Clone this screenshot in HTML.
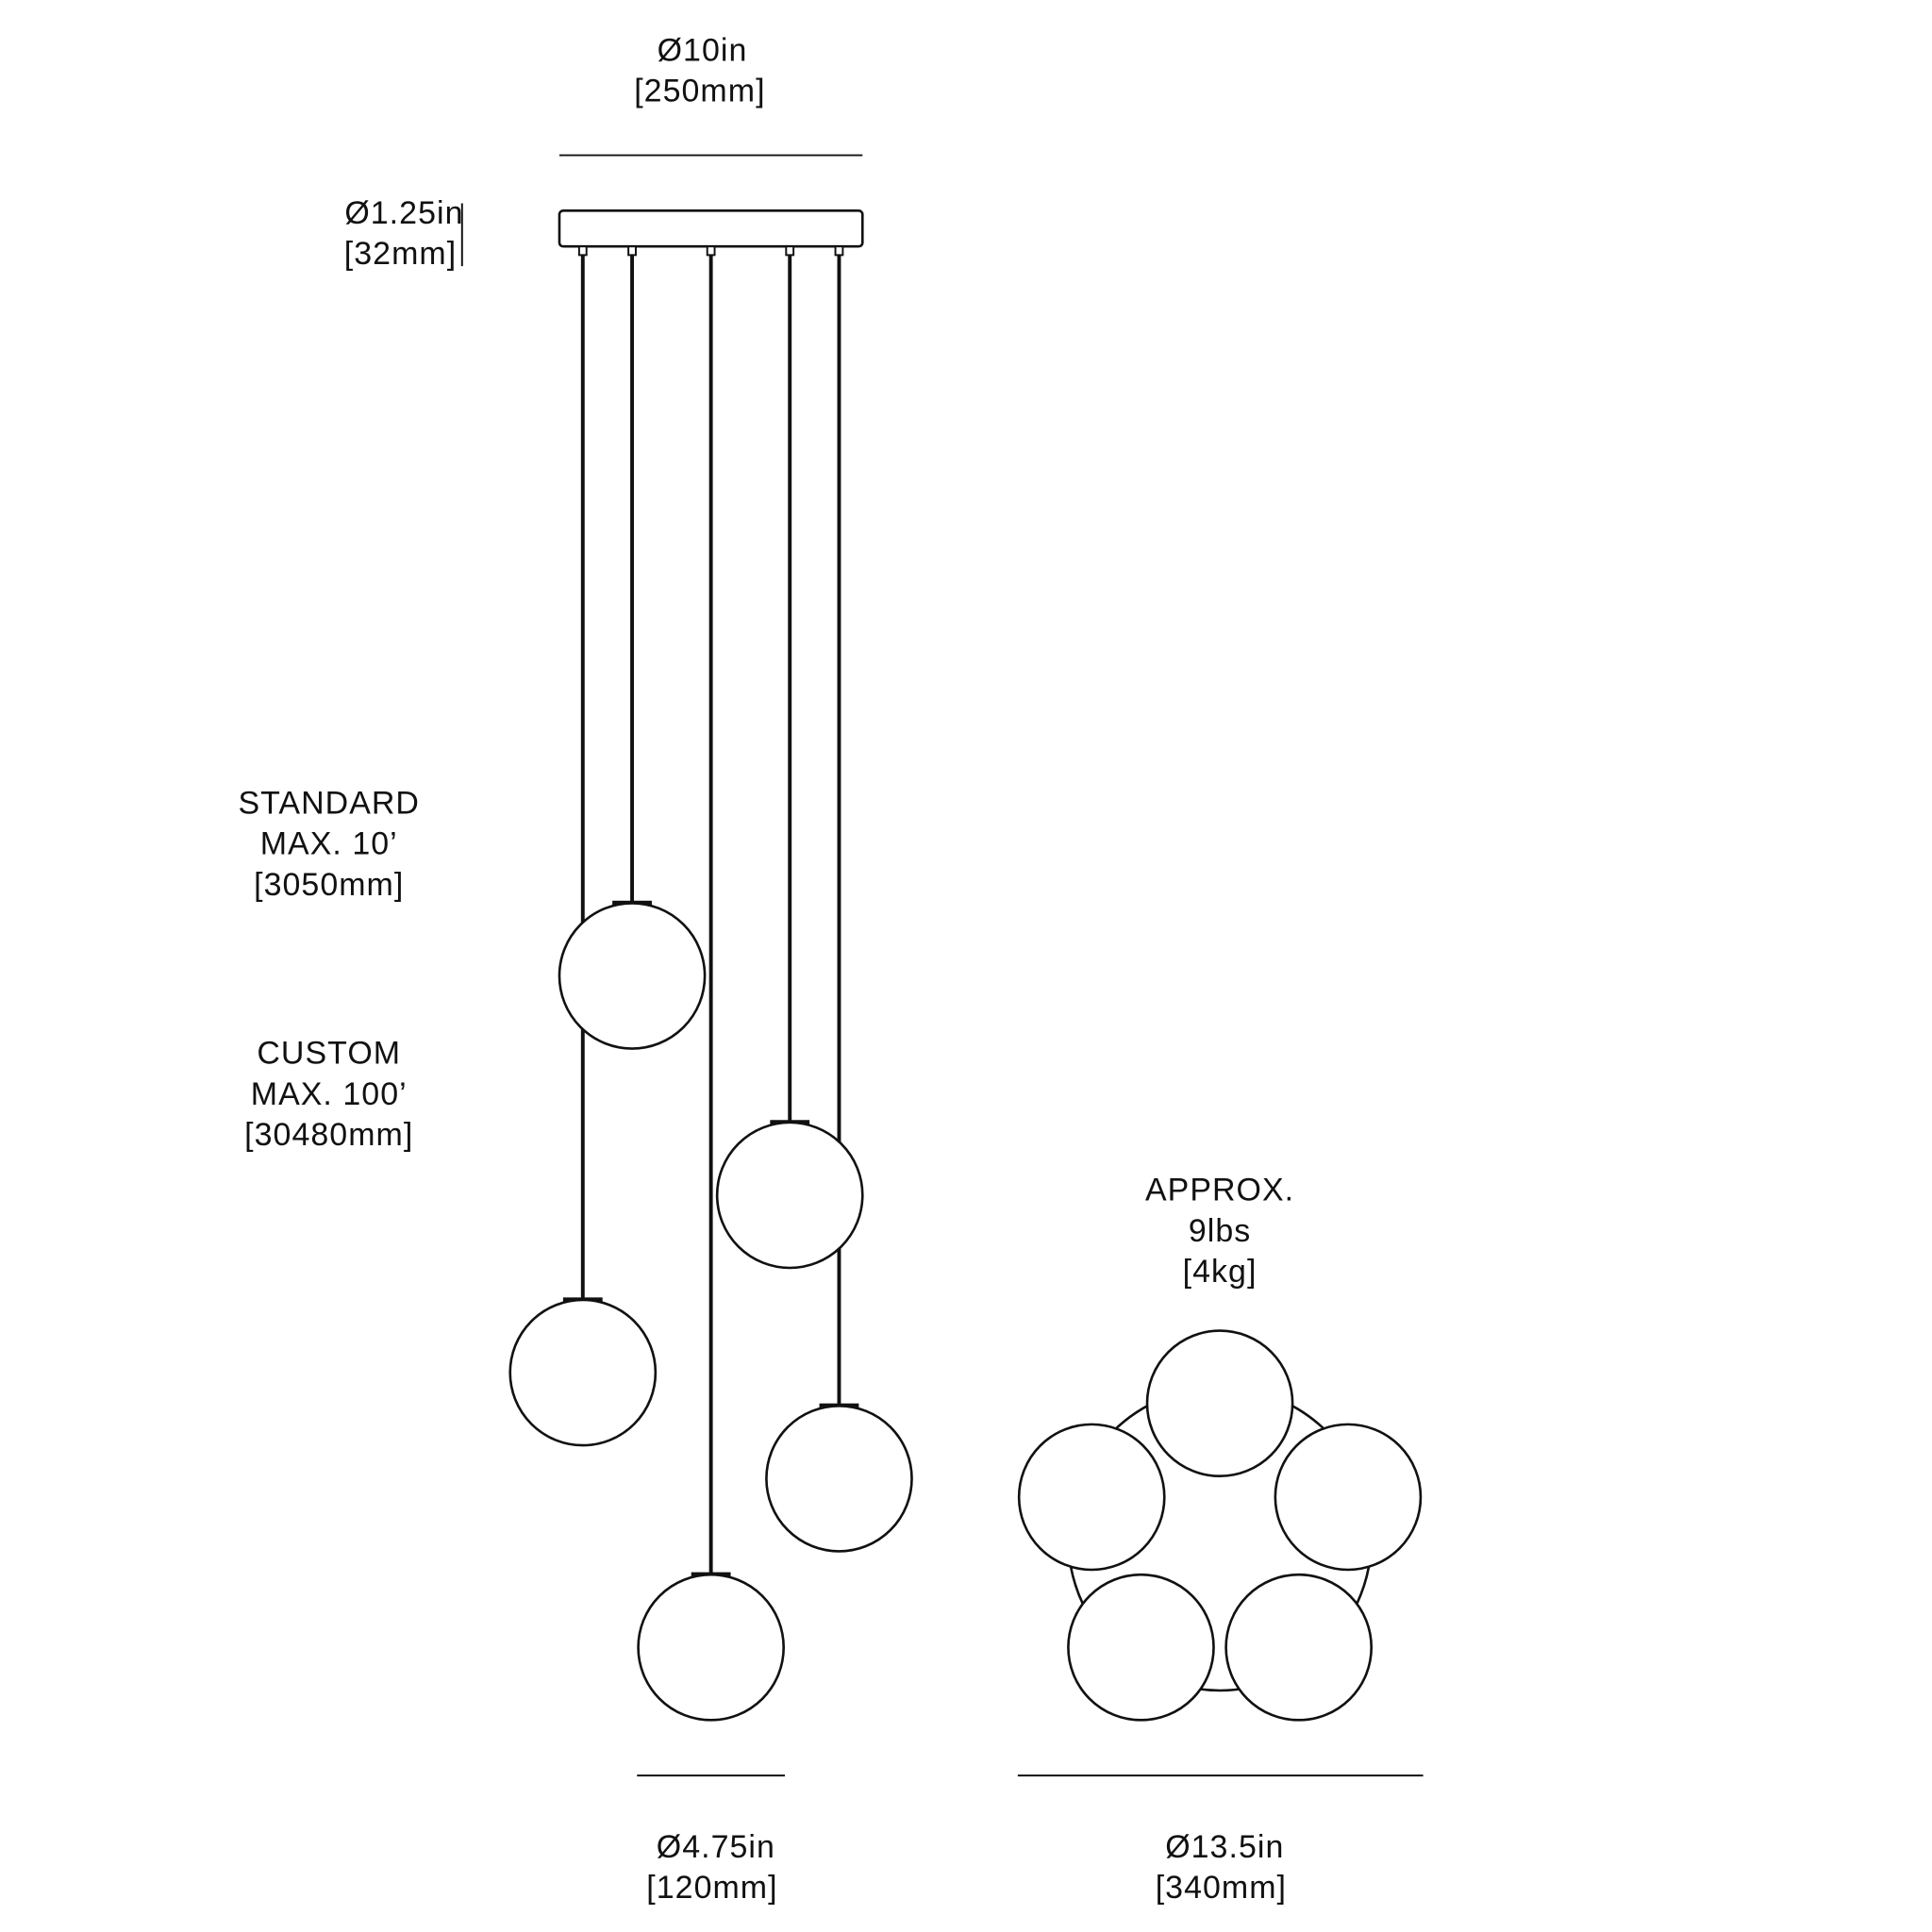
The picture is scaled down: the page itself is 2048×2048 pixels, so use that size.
<!DOCTYPE html>
<html><head><meta charset="utf-8"><style>html,body{margin:0;padding:0;background:#fff}svg{display:block}</style></head>
<body>
<svg width="2048" height="2048" viewBox="0 0 1568 1568" xmlns="http://www.w3.org/2000/svg">
<rect width="1568" height="1568" fill="#fff"/>
<g font-family="Liberation Sans, sans-serif" font-size="26" letter-spacing="0.8" fill="#111" text-anchor="middle" dominant-baseline="central">
<text x="570" y="41">Ø10in</text><text x="568" y="74">[250mm]</text>
<text x="328" y="173">Ø1.25in</text><text x="325" y="206">[32mm]</text>
<text x="267" y="652">STANDARD</text><text x="267" y="685">MAX. 10’</text><text x="267" y="718">[3050mm]</text>
<text x="267" y="855">CUSTOM</text><text x="267" y="888">MAX. 100’</text><text x="267" y="921">[30480mm]</text>
<text x="990" y="966">APPROX.</text><text x="990" y="999">9lbs</text><text x="990" y="1032">[4kg]</text>
<text x="581" y="1499">Ø4.75in</text><text x="578" y="1532">[120mm]</text>
<text x="994" y="1499">Ø13.5in</text><text x="991" y="1532">[340mm]</text>
</g>
<g stroke="#111" stroke-width="1.5" fill="none">
<line x1="454" y1="126" x2="700" y2="126"/>
<line x1="375" y1="165" x2="375" y2="216"/>
<line x1="517" y1="1441" x2="637" y2="1441"/>
<line x1="826" y1="1441" x2="1155" y2="1441"/>
</g>
<rect x="454" y="171" width="246" height="29" rx="3" fill="#fff" stroke="#111" stroke-width="2"/>
<g stroke="#111" stroke-width="3">
<line x1="473" y1="205" x2="473" y2="1055"/>
<line x1="513" y1="205" x2="513" y2="733"/>
<line x1="577" y1="205" x2="577" y2="1278"/>
<line x1="641" y1="205" x2="641" y2="911"/>
<line x1="681" y1="205" x2="681" y2="1141"/>
</g>
<g fill="#fff" stroke="#111" stroke-width="1.5">
<rect x="470" y="200" width="6" height="7"/><rect x="510" y="200" width="6" height="7"/><rect x="574" y="200" width="6" height="7"/><rect x="638" y="200" width="6" height="7"/><rect x="678" y="200" width="6" height="7"/>
</g>
<g fill="#111">
<rect x="497" y="731" width="32" height="5"/>
<rect x="457" y="1053" width="32" height="5"/>
<rect x="625" y="909" width="32" height="5"/>
<rect x="665" y="1139" width="32" height="5"/>
<rect x="561" y="1276" width="32" height="5"/>
</g>
<g fill="#fff" stroke="#111" stroke-width="2">
<circle cx="513" cy="792" r="59"/>
<circle cx="473" cy="1114" r="59"/>
<circle cx="641" cy="970" r="59"/>
<circle cx="681" cy="1200" r="59"/>
<circle cx="577" cy="1337" r="59"/>
<circle cx="990" cy="1249" r="123"/>
<circle cx="990" cy="1139" r="59"/>
<circle cx="886" cy="1215" r="59"/>
<circle cx="1094" cy="1215" r="59"/>
<circle cx="926" cy="1337" r="59"/>
<circle cx="1054" cy="1337" r="59"/>
</g>
</svg>
</body></html>
